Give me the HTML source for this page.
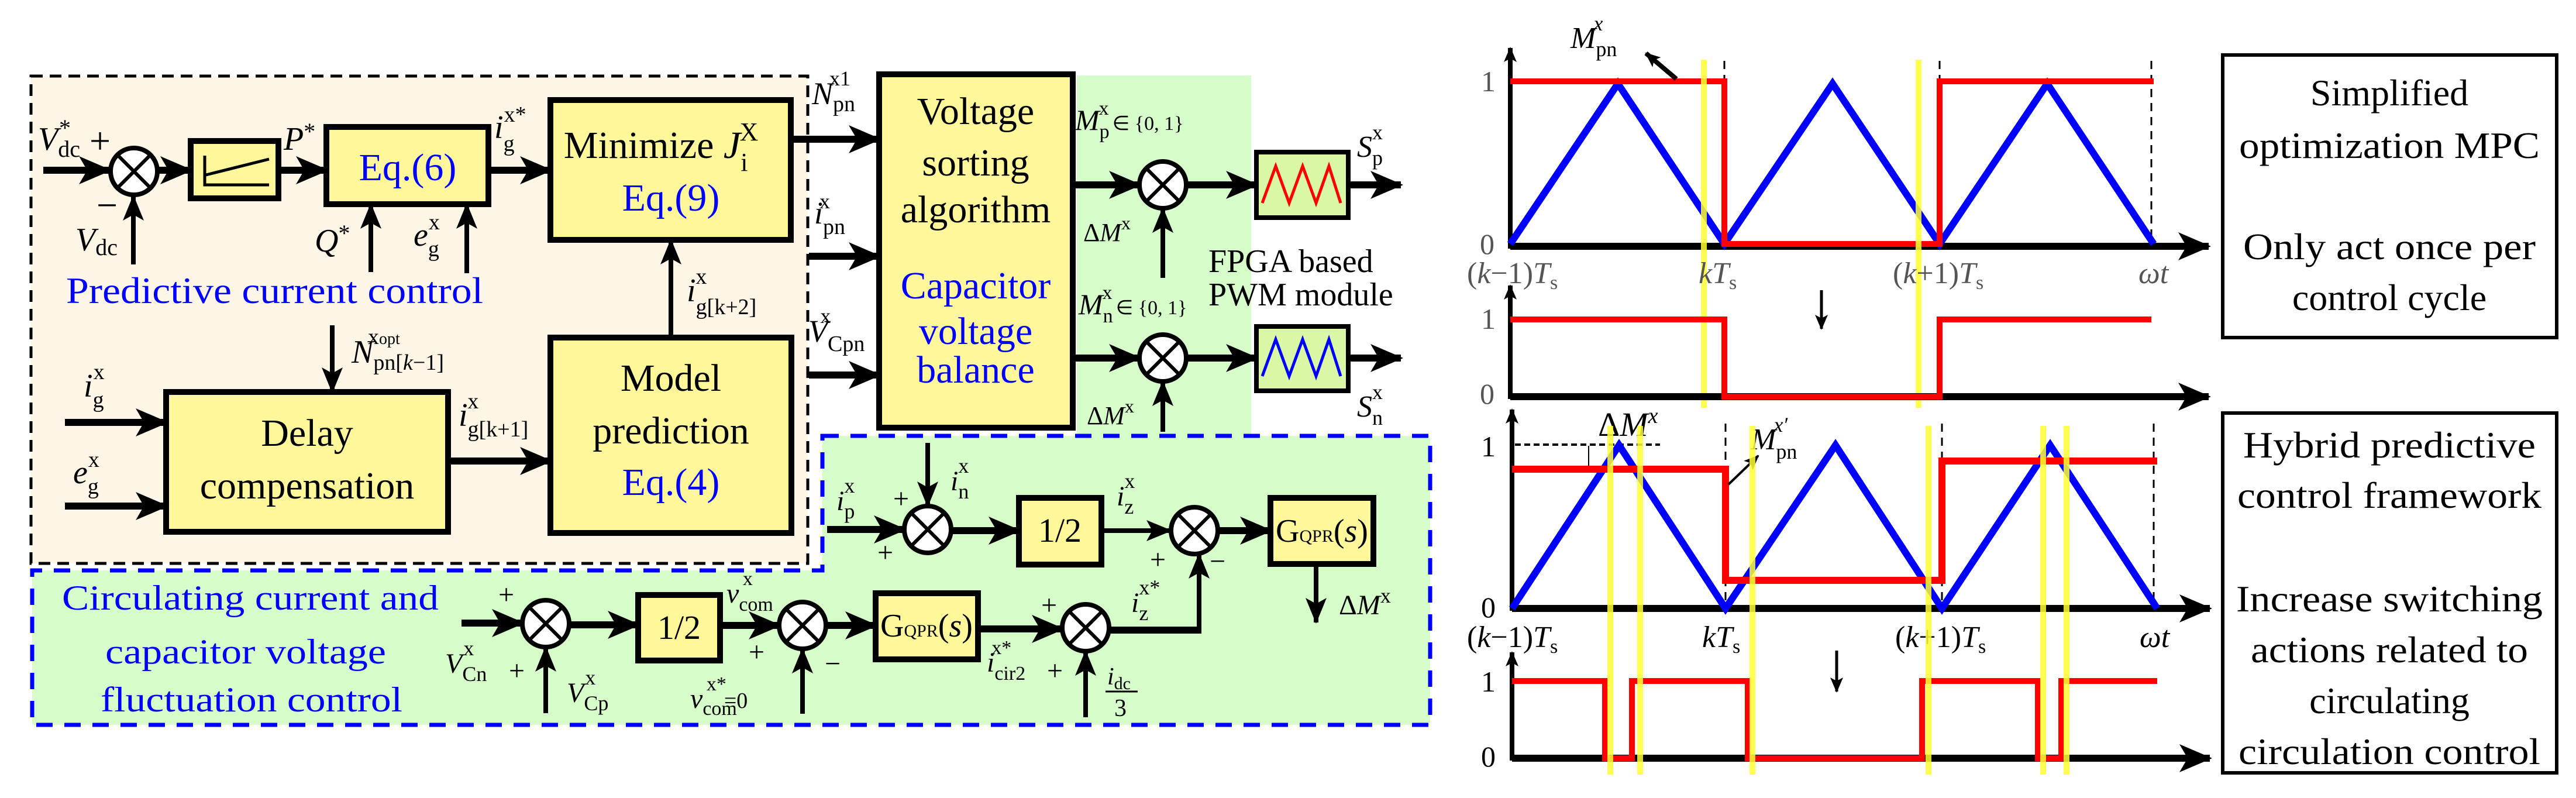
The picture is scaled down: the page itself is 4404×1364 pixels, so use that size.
<!DOCTYPE html>
<html><head><meta charset="utf-8"><style>
html,body{margin:0;padding:0;background:#fff;}
svg{display:block}
text{font-family:"Liberation Serif",serif;}
.b{fill:#fff799;stroke:#000;stroke-width:10}
.c{fill:#fff;stroke:#000;stroke-width:8}
.ln{stroke:#000;stroke-width:12;fill:none}
.tn{stroke:#000;stroke-width:8;fill:none}
.i{font-style:italic}
</style></head><body>
<svg width="4404" height="1364" viewBox="0 0 4404 1364" xmlns="http://www.w3.org/2000/svg">
<defs>
<marker id="a" markerUnits="userSpaceOnUse" markerWidth="56" markerHeight="48" refX="52" refY="24" orient="auto"><path d="M0,0 L56,24 L0,48 L14,24 Z" fill="#000"/></marker>
<marker id="s" markerUnits="userSpaceOnUse" markerWidth="44" markerHeight="36" refX="42" refY="18" orient="auto"><path d="M0,0 L44,18 L0,36 L10,18 Z" fill="#000"/></marker>
<marker id="t" markerUnits="userSpaceOnUse" markerWidth="26" markerHeight="22" refX="24" refY="11" orient="auto"><path d="M0,0 L26,11 L0,22 L6,11 Z" fill="#000"/></marker>
<g id="x"><circle r="40" class="c"/><path d="M-28,-28 L28,28 M-28,28 L28,-28" stroke="#000" stroke-width="6"/></g>
</defs>

<!-- backgrounds -->
<rect x="53" y="130" width="1328" height="833" fill="#fdf5e6" stroke="#000" stroke-width="5" stroke-dasharray="20,12"/>
<rect x="1841" y="129" width="298" height="616" fill="#d6fcca"/>
<path d="M1406,745 H2445 V1239 H55 V975 H1406 Z" fill="#d6fcca" stroke="#0000ff" stroke-width="7" stroke-dasharray="28,20"/>

<!-- upper left blocks -->
<rect x="326" y="241" width="150" height="98" class="b"/>
<path d="M350,266 V316 H460 M352,299 L460,272" stroke="#000" stroke-width="5" fill="none"/>
<rect x="558" y="217" width="277" height="132" class="b"/>
<text x="697" y="308" font-size="66" fill="#0000ff" text-anchor="middle">Eq.(6)</text>
<rect x="941" y="171" width="411" height="239" class="b"/>
<text x="1130" y="270" font-size="66" text-anchor="middle">Minimize <tspan class="i">J</tspan><tspan font-size="44" dy="22">i</tspan><tspan font-size="44" dx="-14" dy="-52">X</tspan></text>
<text x="1147" y="360" font-size="66" fill="#0000ff" text-anchor="middle">Eq.(9)</text>
<rect x="284" y="670" width="482" height="239" class="b"/>
<text x="525" y="762" font-size="66" text-anchor="middle">Delay</text>
<text x="525" y="852" font-size="66" text-anchor="middle">compensation</text>
<rect x="941" y="577" width="412" height="334" class="b"/>
<text x="1147" y="668" font-size="66" text-anchor="middle">Model</text>
<text x="1147" y="758" font-size="66" text-anchor="middle">prediction</text>
<text x="1147" y="846" font-size="66" fill="#0000ff" text-anchor="middle">Eq.(4)</text>
<text x="113" y="518" font-size="64" fill="#0000ff" textLength="713" lengthAdjust="spacingAndGlyphs">Predictive current control</text>

<use href="#x" x="229" y="293"/>
<line x1="74" y1="291" x2="187" y2="291" class="ln" marker-end="url(#a)"/>
<line x1="271" y1="291" x2="326" y2="291" class="ln" marker-end="url(#a)"/>
<line x1="476" y1="291" x2="558" y2="291" class="ln" marker-end="url(#a)"/>
<line x1="835" y1="291" x2="941" y2="291" class="ln" marker-end="url(#a)"/>
<line x1="228" y1="452" x2="228" y2="335" class="tn" marker-end="url(#s)"/>
<line x1="634" y1="465" x2="634" y2="349" class="tn" marker-end="url(#s)"/>
<line x1="798" y1="467" x2="798" y2="349" class="tn" marker-end="url(#s)"/>
<line x1="1147" y1="577" x2="1147" y2="410" class="tn" marker-end="url(#s)"/>
<line x1="568" y1="556" x2="568" y2="670" class="tn" marker-end="url(#s)"/>
<line x1="111" y1="722" x2="284" y2="722" class="ln" marker-end="url(#a)"/>
<line x1="111" y1="865" x2="284" y2="865" class="ln" marker-end="url(#a)"/>
<line x1="766" y1="788" x2="941" y2="788" class="ln" marker-end="url(#a)"/>

<!-- labels left -->
<text x="65" y="256" font-size="56"><tspan class="i">V</tspan><tspan font-size="40" dy="12">dc</tspan><tspan font-size="40" dx="-36" dy="-36">*</tspan></text>
<text x="153" y="262" font-size="64">+</text>
<text x="165" y="372" font-size="64">−</text>
<text x="129" y="428" font-size="56"><tspan class="i">V</tspan><tspan font-size="40" dy="8">dc</tspan></text>
<text x="485" y="256" font-size="56"><tspan class="i">P</tspan><tspan font-size="40" dy="-18">*</tspan></text>
<text x="845" y="236" font-size="56"><tspan class="i">i</tspan><tspan font-size="38" dy="22">g</tspan><tspan font-size="38" dx="-18" dy="-50">x*</tspan></text>
<text x="538" y="430" font-size="56"><tspan class="i">Q</tspan><tspan font-size="40" dy="-18">*</tspan></text>
<text x="707" y="420" font-size="56"><tspan class="i">e</tspan><tspan font-size="38" dy="18">g</tspan><tspan font-size="38" dx="-18" dy="-46">x</tspan></text>
<text x="1174" y="515" font-size="56"><tspan class="i">i</tspan><tspan font-size="38" dy="22">g[k+2]</tspan><tspan font-size="38" dx="-104" dy="-52">x</tspan></text>
<text x="601" y="620" font-size="56"><tspan class="i">N</tspan><tspan font-size="38" dy="12">pn[<tspan class="i">k</tspan>−1]</tspan><tspan font-size="38" dx="-130" dy="-44">x<tspan font-size="28">opt</tspan></tspan></text>
<text x="143" y="678" font-size="56"><tspan class="i">i</tspan><tspan font-size="38" dy="18">g</tspan><tspan font-size="38" dx="-18" dy="-48">x</tspan></text>
<text x="125" y="826" font-size="56"><tspan class="i">e</tspan><tspan font-size="38" dy="18">g</tspan><tspan font-size="38" dx="-18" dy="-46">x</tspan></text>
<text x="784" y="728" font-size="56"><tspan class="i">i</tspan><tspan font-size="38" dy="18">g[k+1]</tspan><tspan font-size="38" dx="-104" dy="-48">x</tspan></text>

<!-- voltage sorting -->
<rect x="1503" y="127" width="331" height="604" class="b"/>
<text x="1668" y="212" font-size="66" text-anchor="middle">Voltage</text>
<text x="1668" y="300" font-size="66" text-anchor="middle">sorting</text>
<text x="1668" y="380" font-size="66" text-anchor="middle">algorithm</text>
<text x="1668" y="510" font-size="66" fill="#0000ff" text-anchor="middle">Capacitor</text>
<text x="1668" y="588" font-size="66" fill="#0000ff" text-anchor="middle">voltage</text>
<text x="1668" y="654" font-size="66" fill="#0000ff" text-anchor="middle">balance</text>
<line x1="1352" y1="238" x2="1503" y2="238" class="ln" marker-end="url(#a)"/>
<line x1="1383" y1="438" x2="1503" y2="438" class="ln" marker-end="url(#a)"/>
<line x1="1383" y1="641" x2="1503" y2="641" class="ln" marker-end="url(#a)"/>
<text x="1388" y="178" font-size="54"><tspan class="i">N</tspan><tspan font-size="38" dy="12">pn</tspan><tspan font-size="36" dx="-44" dy="-44">x1</tspan></text>
<text x="1392" y="382" font-size="54"><tspan class="i">i</tspan><tspan font-size="38" dy="18">pn</tspan><tspan font-size="36" dx="-44" dy="-44">x</tspan></text>
<text x="1382" y="584" font-size="54"><tspan class="i">V</tspan><tspan font-size="38" dy="16">Cpn</tspan><tspan font-size="36" dx="-76" dy="-48">x</tspan></text>

<!-- PWM -->
<use href="#x" x="1988" y="316"/>
<use href="#x" x="1988" y="612"/>
<line x1="1834" y1="316" x2="1948" y2="316" class="ln" marker-end="url(#a)"/>
<line x1="1834" y1="612" x2="1948" y2="612" class="ln" marker-end="url(#a)"/>
<line x1="2028" y1="316" x2="2148" y2="316" class="ln" marker-end="url(#a)"/>
<line x1="2028" y1="612" x2="2148" y2="612" class="ln" marker-end="url(#a)"/>
<line x1="2305" y1="316" x2="2395" y2="316" class="ln" marker-end="url(#a)"/>
<line x1="2305" y1="612" x2="2395" y2="612" class="ln" marker-end="url(#a)"/>
<line x1="1988" y1="475" x2="1988" y2="356" class="tn" marker-end="url(#s)"/>
<line x1="1988" y1="738" x2="1988" y2="652" class="tn" marker-end="url(#s)"/>
<rect x="2148" y="260" width="157" height="112" fill="#d9f7a5" stroke="#000" stroke-width="8"/>
<rect x="2148" y="558" width="157" height="110" fill="#d9f7a5" stroke="#000" stroke-width="8"/>
<polyline points="2158,347 2181,284 2204,347 2227,284 2250,347 2272,284 2292,347" fill="none" stroke="#ff0000" stroke-width="5"/>
<polyline points="2158,643 2181,580 2204,643 2227,580 2250,643 2272,580 2292,643" fill="none" stroke="#0000ff" stroke-width="5"/>
<text x="1838" y="222" font-size="50"><tspan class="i">M</tspan><tspan font-size="34" dy="14">p</tspan><tspan font-size="34" dx="-18" dy="-40">x</tspan><tspan font-size="34" dx="6" dy="26">∈ {0, 1}</tspan></text>
<text x="1844" y="537" font-size="50"><tspan class="i">M</tspan><tspan font-size="34" dy="14">n</tspan><tspan font-size="34" dx="-18" dy="-40">x</tspan><tspan font-size="34" dx="6" dy="26">∈ {0, 1}</tspan></text>
<text x="1852" y="412" font-size="44">Δ<tspan class="i">M</tspan><tspan font-size="32" dy="-20">x</tspan></text>
<text x="1858" y="725" font-size="44">Δ<tspan class="i">M</tspan><tspan font-size="32" dy="-20">x</tspan></text>
<text x="2066" y="465" font-size="56">FPGA based</text>
<text x="2066" y="522" font-size="56">PWM module</text>
<text x="2320" y="268" font-size="52"><tspan class="i">S</tspan><tspan font-size="36" dy="14">p</tspan><tspan font-size="36" dx="-18" dy="-44">x</tspan></text>
<text x="2320" y="712" font-size="52"><tspan class="i">S</tspan><tspan font-size="36" dy="14">n</tspan><tspan font-size="36" dx="-18" dy="-44">x</tspan></text>

<!-- lower circulating control -->
<text x="106" y="1042" font-size="60" fill="#0000ff" textLength="644" lengthAdjust="spacingAndGlyphs">Circulating current and</text>
<text x="180" y="1134" font-size="60" fill="#0000ff" textLength="480" lengthAdjust="spacingAndGlyphs">capacitor voltage</text>
<text x="172" y="1216" font-size="60" fill="#0000ff" textLength="516" lengthAdjust="spacingAndGlyphs">fluctuation control</text>

<rect x="1091" y="1017" width="140" height="112" class="b"/>
<text x="1161" y="1092" font-size="58" text-anchor="middle">1/2</text>
<rect x="1497" y="1014" width="175" height="113" class="b"/>
<text x="1584" y="1088" font-size="56" text-anchor="middle">G<tspan font-size="30">QPR</tspan>(<tspan class="i">s</tspan>)</text>
<rect x="1742" y="851" width="141" height="114" class="b"/>
<text x="1812" y="926" font-size="58" text-anchor="middle">1/2</text>
<rect x="2172" y="851" width="176" height="113" class="b"/>
<text x="2260" y="926" font-size="56" text-anchor="middle">G<tspan font-size="30">QPR</tspan>(<tspan class="i">s</tspan>)</text>

<use href="#x" x="933" y="1066"/>
<use href="#x" x="1372" y="1069"/>
<use href="#x" x="1856" y="1073"/>
<use href="#x" x="1586" y="905"/>
<use href="#x" x="2042" y="907"/>

<line x1="789" y1="1065" x2="893" y2="1065" class="ln" marker-end="url(#a)"/>
<line x1="973" y1="1068" x2="1091" y2="1068" class="ln" marker-end="url(#a)"/>
<line x1="1231" y1="1069" x2="1332" y2="1069" class="ln" marker-end="url(#a)"/>
<line x1="1412" y1="1069" x2="1497" y2="1069" class="ln" marker-end="url(#a)"/>
<line x1="1672" y1="1075" x2="1816" y2="1075" class="ln" marker-end="url(#a)"/>
<polyline points="1896,1077 2050,1077" class="ln"/>
<line x1="2050" y1="1083" x2="2050" y2="947" class="tn" marker-end="url(#s)"/>
<line x1="933" y1="1219" x2="933" y2="1106" class="tn" marker-end="url(#s)"/>
<line x1="1372" y1="1220" x2="1372" y2="1109" class="tn" marker-end="url(#s)"/>
<line x1="1856" y1="1226" x2="1856" y2="1113" class="tn" marker-end="url(#s)"/>
<line x1="1414" y1="905" x2="1546" y2="905" class="ln" marker-end="url(#a)"/>
<line x1="1586" y1="757" x2="1586" y2="865" class="tn" marker-end="url(#s)"/>
<line x1="1626" y1="907" x2="1742" y2="907" class="ln" marker-end="url(#a)"/>
<line x1="1883" y1="907" x2="2002" y2="907" class="tn" marker-end="url(#s)"/>
<line x1="2082" y1="907" x2="2172" y2="907" class="ln" marker-end="url(#a)"/>
<line x1="2250" y1="964" x2="2250" y2="1064" class="tn" marker-end="url(#s)"/>

<g font-size="48">
<text x="1430" y="872"><tspan class="i">i</tspan><tspan font-size="36" dy="14">p</tspan><tspan font-size="36" dx="-18" dy="-44">x</tspan></text>
<text x="1527" y="868">+</text><text x="1500" y="960">+</text>
<text x="1625" y="838"><tspan class="i">i</tspan><tspan font-size="36" dy="14">n</tspan><tspan font-size="36" dx="-18" dy="-44">x</tspan></text>
<text x="1909" y="864"><tspan class="i">i</tspan><tspan font-size="36" dy="14">z</tspan><tspan font-size="36" dx="-16" dy="-44">x</tspan></text>
<text x="1966" y="972">+</text><text x="2068" y="975">−</text>
<text x="1934" y="1046"><tspan class="i">i</tspan><tspan font-size="36" dy="14">z</tspan><tspan font-size="36" dx="-16" dy="-44">x*</tspan></text>
<text x="2289" y="1050">Δ<tspan class="i">M</tspan><tspan font-size="36" dy="-20">x</tspan></text>
<text x="852" y="1032">+</text><text x="870" y="1162">+</text>
<text x="761" y="1150"><tspan class="i">V</tspan><tspan font-size="36" dy="14">Cn</tspan><tspan font-size="36" dx="-40" dy="-44">x</tspan></text>
<text x="969" y="1200"><tspan class="i">V</tspan><tspan font-size="36" dy="14">Cp</tspan><tspan font-size="36" dx="-40" dy="-44">x</tspan></text>
<text x="1242" y="1030"><tspan class="i">v</tspan><tspan font-size="34" dy="14">com</tspan><tspan font-size="34" dx="-52" dy="-44">x</tspan></text>
<text x="1280" y="1130">+</text><text x="1410" y="1150">−</text>
<text x="1180" y="1210"><tspan class="i">v</tspan><tspan font-size="34" dy="12">com</tspan><tspan font-size="34" dx="-52" dy="-42">x*</tspan><tspan font-size="38" dx="-4" dy="30">=0</tspan></text>
<text x="1687" y="1148"><tspan class="i">i</tspan><tspan font-size="34" dy="14">cir2</tspan><tspan font-size="34" dx="-58" dy="-44">x*</tspan></text>
<text x="1780" y="1050">+</text><text x="1790" y="1162">+</text>
<text x="1893" y="1170" font-size="42"><tspan class="i">i</tspan><tspan font-size="30" dy="8">dc</tspan></text>
<line x1="1890" y1="1182" x2="1945" y2="1182" stroke="#000" stroke-width="3"/>
<text x="1905" y="1224" font-size="42">3</text>
</g>

<!-- right plots -->
<g>
<!-- top plot -->
<line x1="2582" y1="421" x2="3776" y2="421" class="ln" marker-end="url(#a)"/>
<line x1="2582" y1="425" x2="2582" y2="82" class="tn" marker-end="url(#t)"/>
<path d="M2948,104 V417 M3316,104 V417 M3678,104 V417" stroke="#000" stroke-width="3" stroke-dasharray="14,10"/>
<polyline points="2582,417 2766,143 2948,417 3133,143 3316,417 3500,143 3682,417" fill="none" stroke="#0000ff" stroke-width="12"/>
<polyline points="2582,139 2948,139 2948,417 3316,417 3316,139 3682,139" fill="none" stroke="#ff0000" stroke-width="10"/>
<line x1="2913" y1="102" x2="2913" y2="697" stroke="#ffff33" stroke-width="10" opacity="0.85"/>
<line x1="3280" y1="102" x2="3280" y2="697" stroke="#ffff33" stroke-width="10" opacity="0.85"/>
<text x="2532" y="156" font-size="50" fill="#555">1</text>
<text x="2530" y="434" font-size="50" fill="#555">0</text>
<g font-size="52" fill="#555">
<text x="2508" y="484">(<tspan class="i">k</tspan>−1)<tspan class="i">T</tspan><tspan font-size="34" dy="10">s</tspan></text>
<text x="2904" y="484"><tspan class="i">kT</tspan><tspan font-size="34" dy="10">s</tspan></text>
<text x="3236" y="484">(<tspan class="i">k</tspan>+1)<tspan class="i">T</tspan><tspan font-size="34" dy="10">s</tspan></text>
<text x="3656" y="484" class="i">ωt</text>
</g>
<text x="2685" y="82" font-size="52"><tspan class="i">M</tspan><tspan font-size="36" dy="14">pn</tspan><tspan font-size="36" dx="-40" dy="-44" class="i">x</tspan></text>
<line x1="2866" y1="135" x2="2814" y2="91" class="tn" stroke-width="4" marker-end="url(#t)"/>
<!-- second -->
<line x1="2582" y1="678" x2="3776" y2="678" class="ln" marker-end="url(#a)"/>
<line x1="2582" y1="682" x2="2582" y2="488" class="tn" marker-end="url(#t)"/>
<polyline points="2582,546 2948,546 2948,678 3316,678 3316,546 3678,546" fill="none" stroke="#ff0000" stroke-width="10"/>
<text x="2532" y="562" font-size="50" fill="#555">1</text>
<text x="2530" y="690" font-size="50" fill="#555">0</text>
<line x1="3114" y1="496" x2="3114" y2="562" stroke="#000" stroke-width="5" marker-end="url(#t)"/>
<rect x="3800" y="94" width="571" height="483" fill="#fff" stroke="#000" stroke-width="6"/>
<g font-size="64" text-anchor="middle">
<text x="4085" y="180">Simplified</text>
<text x="4085" y="270" textLength="514" lengthAdjust="spacingAndGlyphs">optimization MPC</text>
<text x="4085" y="443" textLength="500" lengthAdjust="spacingAndGlyphs">Only act once per</text>
<text x="4085" y="530">control cycle</text>
</g>

<!-- third plot -->
<line x1="2585" y1="1040" x2="3778" y2="1040" class="ln" marker-end="url(#a)"/>
<line x1="2585" y1="1044" x2="2585" y2="700" class="tn" marker-end="url(#t)"/>
<path d="M2950,724 V1036 M3320,724 V1036 M3682,724 V1036" stroke="#000" stroke-width="3" stroke-dasharray="14,10"/>
<line x1="2590" y1="760" x2="2838" y2="760" stroke="#000" stroke-width="4" stroke-dasharray="10,6"/>
<line x1="2716" y1="762" x2="2716" y2="802" stroke="#000" stroke-width="2"/>
<polyline points="2585,1040 2768,761 2950,1040 3138,761 3320,1040 3505,761 3688,1040" fill="none" stroke="#0000ff" stroke-width="12"/>
<polyline points="2585,802 2950,802 2950,992 3320,992 3320,788 3688,788" fill="none" stroke="#ff0000" stroke-width="12"/>
<text x="2532" y="780" font-size="50" fill="#000">1</text>
<text x="2532" y="1055" font-size="50" fill="#000">0</text>
<g font-size="52">
<text x="2508" y="1106">(<tspan class="i">k</tspan>−1)<tspan class="i">T</tspan><tspan font-size="34" dy="10">s</tspan></text>
<text x="2910" y="1106"><tspan class="i">kT</tspan><tspan font-size="34" dy="10">s</tspan></text>
<text x="3240" y="1106">(<tspan class="i">k</tspan>+1)<tspan class="i">T</tspan><tspan font-size="34" dy="10">s</tspan></text>
<text x="3658" y="1106" class="i">ωt</text>
</g>
<text x="2732" y="745" font-size="58">Δ<tspan class="i">M</tspan><tspan font-size="38" dy="-22" class="i">x</tspan></text>
<text x="2993" y="768" font-size="52"><tspan class="i">M</tspan><tspan font-size="36" dy="16">pn</tspan><tspan font-size="36" dx="-40" dy="-46" class="i">x′</tspan></text>
<line x1="2955" y1="828" x2="3006" y2="779" stroke="#000" stroke-width="4" marker-end="url(#t)"/>
<!-- fourth -->
<line x1="2585" y1="1296" x2="3778" y2="1296" class="ln" marker-end="url(#a)"/>
<line x1="2585" y1="1300" x2="2585" y2="1115" class="tn" marker-end="url(#t)"/>
<polyline points="2585,1164 2744,1164 2744,1296 2790,1296 2790,1164 2988,1164 2988,1296 3286,1296 3286,1164 3484,1164 3484,1296 3524,1296 3524,1164 3688,1164" fill="none" stroke="#ff0000" stroke-width="10"/>
<text x="2532" y="1182" font-size="50">1</text>
<text x="2532" y="1310" font-size="50">0</text>
<line x1="3140" y1="1112" x2="3140" y2="1182" stroke="#000" stroke-width="5" marker-end="url(#t)"/>
<g stroke="#ffff33" stroke-width="10" opacity="0.85">
<line x1="2753" y1="728" x2="2753" y2="1324"/><line x1="2804" y1="728" x2="2804" y2="1324"/>
<line x1="2996" y1="728" x2="2996" y2="1324"/><line x1="3297" y1="728" x2="3297" y2="1324"/>
<line x1="3493" y1="728" x2="3493" y2="1324"/><line x1="3533" y1="728" x2="3533" y2="1324"/>
</g>
<rect x="3800" y="706" width="571" height="615" fill="#fff" stroke="#000" stroke-width="6"/>
<g font-size="64" text-anchor="middle">
<text x="4085" y="782" textLength="500" lengthAdjust="spacingAndGlyphs">Hybrid predictive</text>
<text x="4085" y="868" textLength="520" lengthAdjust="spacingAndGlyphs">control framework</text>
<text x="4085" y="1045" textLength="524" lengthAdjust="spacingAndGlyphs">Increase switching</text>
<text x="4085" y="1132" textLength="474" lengthAdjust="spacingAndGlyphs">actions related to</text>
<text x="4085" y="1219">circulating</text>
<text x="4085" y="1306" textLength="516" lengthAdjust="spacingAndGlyphs">circulation control</text>
</g>
</g>
</svg>
</body></html>
